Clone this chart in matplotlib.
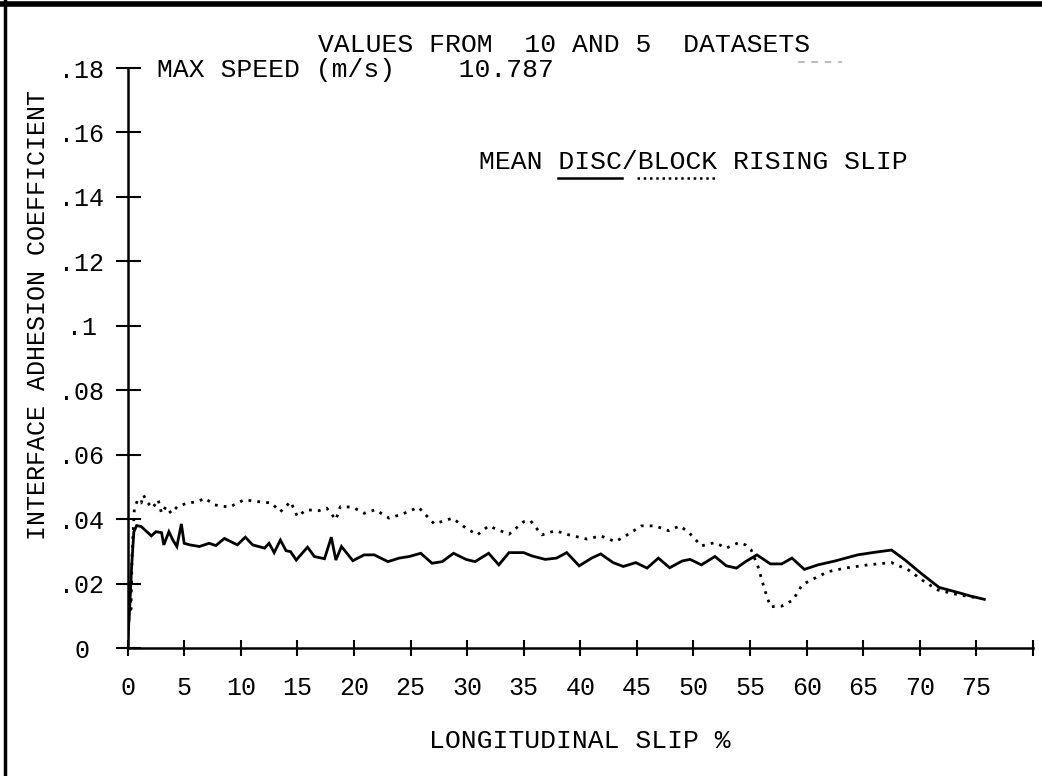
import matplotlib
matplotlib.use('Agg')
import matplotlib.pyplot as plt
from matplotlib.lines import Line2D

plt.rcParams['font.family'] = ['Liberation Mono', 'DejaVu Sans Mono']

# data: mean adhesion coefficient vs longitudinal slip
disc_slip = [0, 0.15, 0.35, 0.55, 0.8, 1.2, 2.1, 2.5, 3.0, 3.2, 3.65, 4.0, 4.35, 4.75,
             5.0, 5.5, 6.35, 7.2, 7.8, 8.55, 9.7, 10.4, 11.05, 12.1, 12.5, 12.95, 13.5,
             14.0, 14.4, 14.9, 15.9, 16.5, 17.4, 18.0, 18.4, 18.9, 19.9, 20.9, 21.8,
             23.0, 24.0, 24.9, 25.9, 26.9, 27.8, 28.8, 29.9, 30.7, 31.9, 32.8, 33.7,
             35.0, 35.7, 36.9, 37.9, 38.8, 39.9, 41.0, 41.8, 42.9, 43.8, 44.9, 45.9,
             46.9, 47.9, 49.0, 49.7, 50.7, 51.9, 52.9, 53.8, 54.6, 55.6, 56.8, 57.8,
             58.7, 59.8, 61.0, 62.5, 64.5, 66.0, 67.5, 68.7, 70.1, 71.7, 73.4, 74.5, 75.7]
disc_mu = [0.002, 0.010, 0.025, 0.036, 0.038, 0.0377, 0.0348, 0.0361, 0.0358, 0.032,
           0.0361, 0.0335, 0.0315, 0.0385, 0.0325, 0.032, 0.0315, 0.0325, 0.0318, 0.034,
           0.032, 0.0344, 0.032, 0.031, 0.0325, 0.0296, 0.0335, 0.0302, 0.0299, 0.0273,
           0.0313, 0.0284, 0.0277, 0.0344, 0.0273, 0.0315, 0.0271, 0.0289, 0.0289, 0.0268,
           0.0279, 0.0284, 0.0294, 0.0263, 0.0268, 0.0294, 0.0275, 0.0268, 0.0294, 0.0258,
           0.0296, 0.0296, 0.0286, 0.0275, 0.0279, 0.0296, 0.0255, 0.0279, 0.0292, 0.0265,
           0.0253, 0.0265, 0.0248, 0.0279, 0.0249, 0.027, 0.0275, 0.0258, 0.0284, 0.0255,
           0.0248, 0.0268, 0.0289, 0.0261, 0.0261, 0.0279, 0.0244, 0.0258, 0.027, 0.0289,
           0.0297, 0.0304, 0.0273, 0.0232, 0.0188, 0.0172, 0.0161, 0.0151]

block_slip = [0, 0.1, 0.2, 0.3, 0.4, 0.6, 0.9, 1.2, 1.4, 1.7, 2.2, 2.7, 3.0, 3.4, 3.85,
              4.4, 5.3, 6.2, 6.8, 7.7, 9.0, 10.3, 11.6, 12.7, 13.5, 14.4, 15.0, 15.8,
              16.9, 17.6, 18.4, 18.8, 19.9, 20.9, 21.9, 23.1, 24.3, 25.7, 27.1, 28.7,
              29.9, 30.9, 31.9, 33.7, 35.0, 35.6, 36.6, 37.8, 39.0, 40.6, 41.8, 43.1,
              44.0, 45.4, 46.6, 47.8, 48.8, 49.6, 50.7, 51.9, 52.9, 54.0, 54.6, 55.1,
              55.7, 56.3, 56.8, 57.8, 58.8, 59.6, 60.4, 61.9, 63.4, 65.4, 67.5, 69.0,
              70.4, 71.6, 73.4, 75.4]
block_mu = [0.003, 0.008, 0.02, 0.012, 0.03, 0.0434, 0.046, 0.045, 0.0475, 0.0454, 0.0434,
            0.046, 0.0418, 0.0439, 0.0418, 0.0439, 0.045, 0.0454, 0.0465, 0.0444, 0.0437,
            0.046, 0.0454, 0.045, 0.0423, 0.0454, 0.0408, 0.0429, 0.0426, 0.0434, 0.0398,
            0.0439, 0.0437, 0.0418, 0.0429, 0.0403, 0.0416, 0.0437, 0.0385, 0.0403, 0.0372,
            0.0351, 0.0379, 0.0353, 0.0392, 0.0395, 0.0351, 0.0364, 0.0351, 0.0338, 0.0348,
            0.033, 0.0348, 0.0379, 0.0379, 0.0364, 0.0379, 0.0358, 0.0317, 0.0327, 0.031,
            0.0327, 0.032, 0.0304, 0.0253, 0.018, 0.0128, 0.013, 0.0149, 0.0196, 0.0211,
            0.0237, 0.0248, 0.0258, 0.0265, 0.0242, 0.0206, 0.018, 0.0165, 0.0154]

x_ticks = list(range(0, 81, 5))
x_labels = [str(v) for v in range(0, 76, 5)] + ['']
y_ticks = [0, 0.02, 0.04, 0.06, 0.08, 0.1, 0.12, 0.14, 0.16, 0.18]
y_labels = ['0', '.02', '.04', '.06', '.08', '.1', '.12', '.14', '.16', '.18']

W, H = 1042, 776
fig = plt.figure(figsize=(W / 100, H / 100), dpi=100)

def fx(px):
    return px / W

def fy(py):
    return 1 - py / H

ax = fig.add_axes([fx(127.6), fy(648), fx(1033) - fx(127.6), fy(68) - fy(648)])

ax.plot(disc_slip, disc_mu, color='black', lw=2.0, solid_joinstyle='miter')
ax.plot(block_slip, block_mu, color='black', lw=2.0, linestyle=(0, (1, 2.2)))

ax.set_xlim(0, 80)
ax.set_ylim(0, 0.18)
for s in ['top', 'right']:
    ax.spines[s].set_visible(False)
for s in ['left', 'bottom']:
    ax.spines[s].set_linewidth(1.8)

fs = 19
ax.set_xticks(x_ticks)
ax.set_xticklabels(x_labels, fontsize=18)
ax.set_yticks(y_ticks)
ax.set_yticklabels(y_labels, fontsize=18)
for lbl in ax.get_yticklabels():
    lbl.set_ha('center')
ax.tick_params(axis='x', direction='inout', length=12, width=1.5, pad=14)
ax.tick_params(axis='y', direction='inout', length=18, width=1.5, pad=24)

# titles / labels
fig.text(fx(564), fy(45), 'VALUES FROM  10 AND 5  DATASETS', fontsize=fs,
         ha='center', va='center')
fig.text(fx(157), fy(70), 'MAX SPEED (m/s)    10.787', fontsize=fs,
         ha='left', va='center')
fig.text(fx(580), fy(741), 'LONGITUDINAL SLIP %', fontsize=fs, ha='center', va='center')
fig.text(fx(38), fy(315), 'INTERFACE ADHESION COEFFICIENT', fontsize=18,
         rotation=90, ha='center', va='center')

# legend line: underline DISC solid, BLOCK dotted
leg = 'MEAN DISC/BLOCK RISING SLIP'
t = fig.text(fx(693), fy(162), leg, fontsize=fs, ha='center', va='center')
fig.canvas.draw()
bb = t.get_window_extent()
cw = bb.width / len(leg)
uy = fy(178)
fig.add_artist(Line2D([fx(bb.x0 + 5 * cw), fx(bb.x0 + 9 * cw)], [uy, uy],
                      transform=fig.transFigure, color='black', lw=1.8))
fig.add_artist(Line2D([fx(bb.x0 + 10 * cw), fx(bb.x0 + 15 * cw)], [uy, uy],
                      transform=fig.transFigure, color='black', lw=1.8,
                      linestyle=(0, (1, 1.5))))

# faint marks top right
fig.add_artist(Line2D([fx(798), fx(842)], [fy(62), fy(62)], transform=fig.transFigure,
                      color='#b0b0b0', lw=1.2, linestyle=(0, (4, 4))))

# page border (top and left)
fig.add_artist(Line2D([0, 1], [fy(4), fy(4)], transform=fig.transFigure, color='black', lw=4))
fig.add_artist(Line2D([fx(5), fx(5)], [0, 1], transform=fig.transFigure, color='black', lw=2.5))

fig.savefig('out.png', dpi=100)
